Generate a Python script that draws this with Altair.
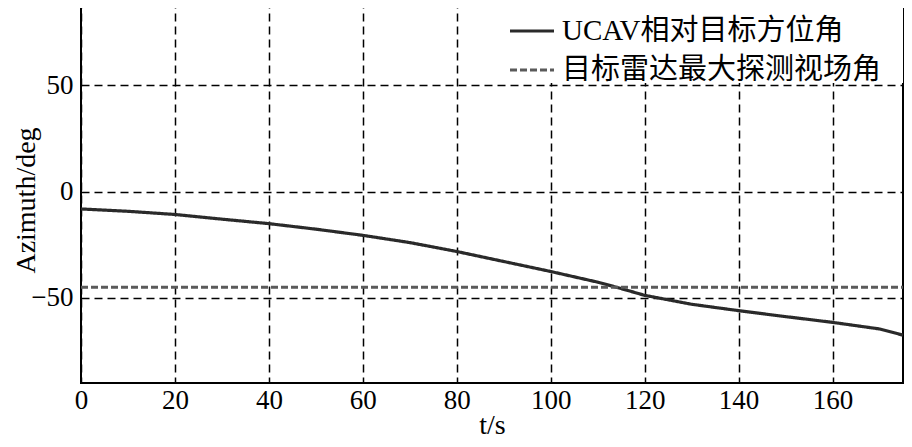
import altair as alt
import pandas as pd

# data
t_vals = [0, 10, 20, 30, 40, 50, 60, 70, 80, 90, 100, 110, 114, 120, 130, 140, 150, 160, 170, 175]
az_vals = [-8.2, -9.3, -10.8, -13.0, -15.1, -17.7, -20.6, -24.0, -28.2, -32.9, -37.6, -42.6, -45.0,
           -48.8, -53.0, -56.0, -58.8, -61.5, -64.6, -67.5]
radar_t = [0, 175]
radar_vals = [-45, -45]
series_names = ["UCAV相对目标方位角", "目标雷达最大探测视场角"]
x_ticks = [0, 20, 40, 60, 80, 100, 120, 140, 160]
y_ticks = [-50, 0, 50]

df = pd.concat([
    pd.DataFrame({"t": t_vals, "v": az_vals, "series": series_names[0]}),
    pd.DataFrame({"t": radar_t, "v": radar_vals, "series": series_names[1]}),
])

FONT = "Liberation Serif, Noto Sans CJK SC"

legend = alt.Legend(
    title=None, orient="none", legendX=427, legendY=7,
    labelFont=FONT, labelFontSize=29, labelColor="black", labelLimit=500,
    symbolType="stroke", symbolSize=1936, symbolStrokeWidth=3.2,
    padding=0, rowPadding=-2, labelOffset=6,
)

x_enc = alt.X("t:Q", scale=alt.Scale(domain=[0, 175], nice=False, zero=False),
              axis=alt.Axis(values=x_ticks, title="t/s", labelFlush=False, labelPadding=4,
                            titleY=50, titleBaseline="alphabetic"))
y_enc = alt.Y("v:Q", scale=alt.Scale(domain=[-90, 90], nice=False, zero=False),
              axis=alt.Axis(values=y_ticks, title="Azimuth/deg", labelFlush=False, labelPadding=8,
                            titleX=-55, titleY=200, titleBaseline="middle", titleAngle=-90))

# white background behind the legend (hides the grid there, as in the reference)
legend_bg = alt.Chart(df).mark_rect(color="white").encode(
    x=alt.value(419), x2=alt.value(822), y=alt.value(5), y2=alt.value(83)
)

lines = alt.Chart(df).mark_line(strokeWidth=3.2).encode(
    x=x_enc,
    y=y_enc,
    color=alt.Color("series:N", scale=alt.Scale(domain=series_names, range=["#2a2a2a", "#5a5a5a"]),
                    legend=legend),
    strokeDash=alt.StrokeDash("series:N", scale=alt.Scale(domain=series_names, range=[[1, 0], [7, 3]]),
                              legend=legend),
    order=alt.Order("t:Q"),
)

chart = alt.layer(legend_bg, lines).properties(
    width=822, height=383,
    autosize=alt.AutoSizeParams(type="none"),
    padding={"left": 73, "top": -8, "right": 1, "bottom": 56},
).configure_view(
    stroke="black", strokeWidth=2,
).configure_axis(
    domain=False, ticks=False,
    grid=True, gridColor="black", gridDash=[8, 5], gridWidth=1.5, gridOpacity=1,
    labelFont=FONT, labelFontSize=27, labelColor="black",
    titleFont=FONT, titleFontSize=28, titleFontWeight="normal", titleColor="black",
)

chart.save("out.html", embed_options={"renderer": "svg", "actions": False})
